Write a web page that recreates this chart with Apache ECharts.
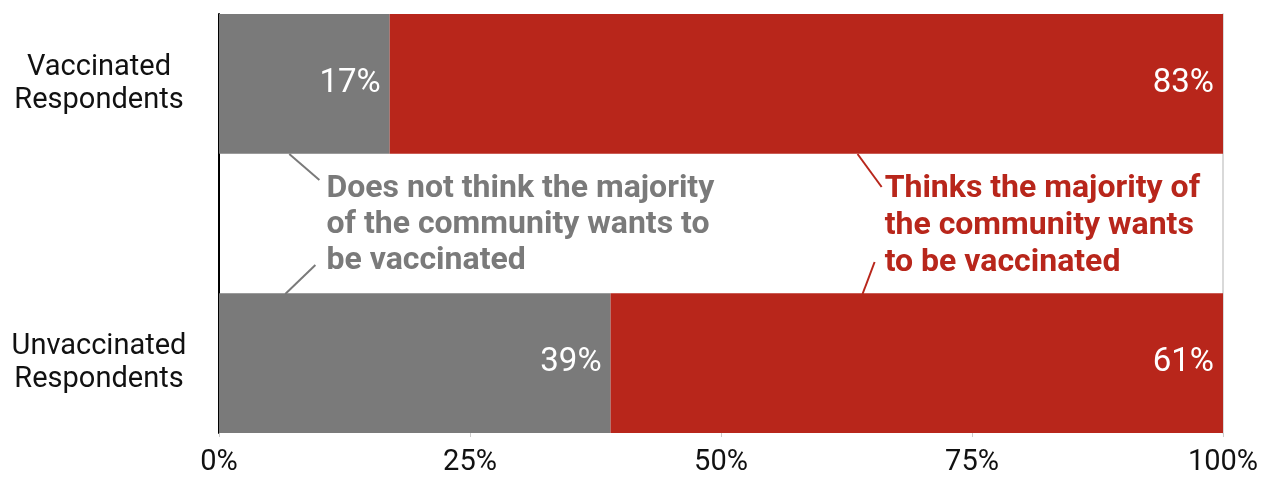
<!DOCTYPE html>
<html>
<head>
<meta charset="utf-8">
<script src="https://cdn.jsdelivr.net/npm/echarts@6/dist/echarts.min.js"></script>
<style>
html,body{margin:0;padding:0;background:#fff;}
#chart{width:1272px;height:477px;}
</style>
</head>
<body>
<div id="chart"></div>
<script>
const categories = ['Vaccinated\nRespondents', 'Unvaccinated\nRespondents'];
const doesNotThink = [17, 39];
const thinksMajority = [83, 61];
const xTicks = [0, 25, 50, 75, 100];
const seriesNames = ['Does not think the majority\nof the community wants to\nbe vaccinated', 'Thinks the majority of\nthe community wants\nto be vaccinated'];

const GREY = '#7a7a7a';
const RED = '#b8261b';
const FONT = 'Roboto';

// axis rows: first category, spacer row, second category
const axisCats = [categories[0], '', categories[1]];
const withGap = arr => [arr[0], '-', arr[1]];

const chart = echarts.init(document.getElementById('chart'));
const labelStyle = {
  show: true, position: 'insideRight', distance: 9,
  color: '#fff', fontFamily: FONT, fontSize: 33,
  formatter: p => p.value + '%'
};
chart.setOption({
  animation: false,
  grid: { left: 219, right: 49, top: 14, bottom: 44, containLabel: false },
  xAxis: {
    type: 'value', min: xTicks[0], max: xTicks[xTicks.length - 1], interval: 25,
    axisLine: { show: false },
    axisTick: { show: true, length: 4, lineStyle: { color: '#cccccc' } },
    splitLine: { show: false },
    axisLabel: { formatter: '{value}%', color: '#111', fontFamily: FONT, fontSize: 29, margin: 15 }
  },
  yAxis: [{
    type: 'category', inverse: true, data: axisCats,
    axisLine: { show: true, lineStyle: { color: '#000', width: 2 } },
    axisTick: { show: false },
    axisLabel: { color: '#111', fontFamily: FONT, fontSize: 29, lineHeight: 33, align: 'center', margin: 120 }
  }, {
    type: 'category', inverse: true, data: axisCats, position: 'right',
    axisLine: { show: true, lineStyle: { color: '#cccccc', width: 1.5 } },
    axisTick: { show: false }, axisLabel: { show: false }
  }],
  series: [{
    name: seriesNames[0], type: 'bar', stack: 'all', barWidth: '100%',
    data: withGap(doesNotThink), itemStyle: { color: GREY }, label: labelStyle, z: 2
  }, {
    name: seriesNames[1], type: 'bar', stack: 'all', barWidth: '100%',
    data: withGap(thinksMajority), itemStyle: { color: RED }, label: labelStyle, z: 2
  }]
});

// annotations anchored to data coordinates
function px(xv, yPix) { return [chart.convertToPixel({ xAxisIndex: 0 }, xv), yPix]; }
const top1 = 154, top2 = 294;
const g1a = px(7.0, top1), g1b = px(10.0, 180);
const g2a = px(9.6, 265), g2b = px(6.6, top2);
const r1a = px(63.6, top1), r1b = px(66.0, 187);
const r2a = px(65.3, 262), r2b = px(64.1, top2);
const line = (a, b, c) => ({ type: 'line', shape: { x1: a[0], y1: a[1], x2: b[0], y2: b[1] }, style: { stroke: c, lineWidth: 2 }, z: 10 });
chart.setOption({
  graphic: [
    line(g1a, g1b, GREY), line(g2a, g2b, GREY),
    line(r1a, r1b, RED), line(r2a, r2b, RED),
    { type: 'text', left: px(10.7, 0)[0], top: 171, z: 10,
      style: { text: seriesNames[0], fill: GREY, font: 'bold 32px Roboto', lineHeight: 36 } },
    { type: 'text', left: px(66.3, 0)[0], top: 170, z: 10,
      style: { text: seriesNames[1], fill: RED, font: 'bold 32px Roboto', lineHeight: 37 } }
  ]
});
</script>
</body>
</html>
